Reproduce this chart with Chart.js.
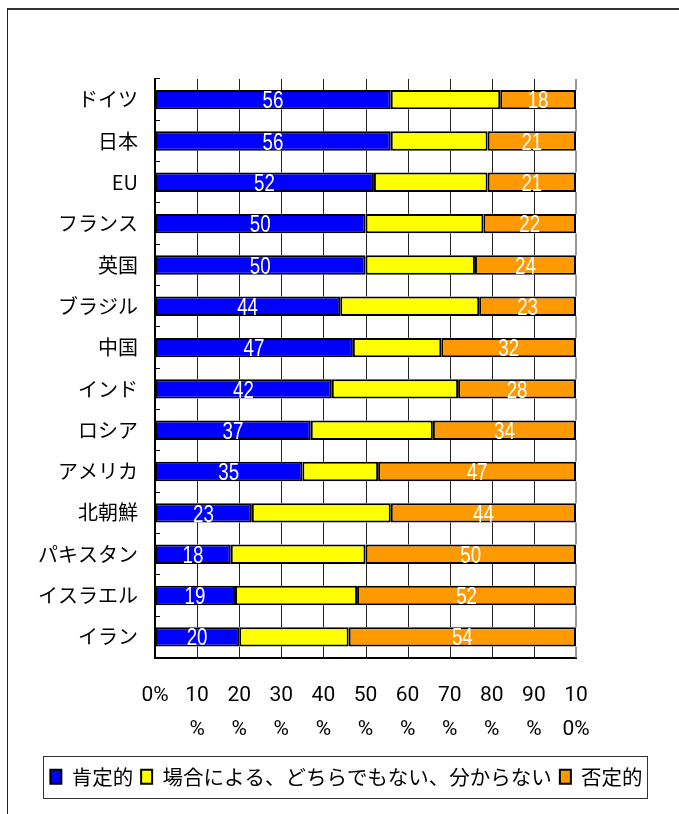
<!DOCTYPE html>
<html>
<head>
<meta charset="utf-8">
<script src="https://cdn.jsdelivr.net/npm/chart.js@4"></script>
<style>
  html, body { margin: 0; padding: 0; background: #fff; }
  #wrap { position: relative; width: 679px; height: 814px; overflow: hidden; }
  #frame { position: absolute; left: 7px; top: 8px; width: 720px; height: 840px;
           border-left: 1px solid #222; border-top: 2px solid #333; }
  canvas { position: absolute; left: 0; top: 0; }
</style>
</head>
<body>
<div id="wrap">
  <div id="frame"></div>
  <canvas id="chart" width="679" height="814"></canvas>
</div>
<script>
const countries = ["ドイツ", "日本", "EU", "フランス", "英国", "ブラジル", "中国", "インド", "ロシア", "アメリカ", "北朝鮮", "パキスタン", "イスラエル", "イラン"];
const positive = [56, 56, 52, 50, 50, 44, 47, 42, 37, 35, 23, 18, 19, 20];
const neutral = [26, 23, 27, 28, 26, 33, 21, 30, 29, 18, 33, 32, 29, 26];
const negative = [18, 21, 21, 22, 24, 23, 32, 28, 34, 47, 44, 50, 52, 54];
const seriesNames = ["肯定的", "場合による、どちらでもない、分からない", "否定的"];
const xTicks = [0, 10, 20, 30, 40, 50, 60, 70, 80, 90, 100];

const jp = '"Noto Sans CJK JP", sans-serif';

// vertical grid lines at each x tick, in the gaps between the bars
const xGrid = {
  id: "xGrid",
  afterDraw(chart) {
    const s = chart.scales.x;
    const a = chart.chartArea;
    const ctx = chart.ctx;
    const bars = chart.getDatasetMeta(0).data.map((b) => b.getProps(["y", "height"], true));
    const gaps = [];
    let top = a.top;
    bars.forEach((b) => {
      gaps.push([top, b.y - b.height / 2]);
      top = b.y + b.height / 2;
    });
    gaps.push([top, a.bottom]);
    ctx.save();
    ctx.setLineDash([]);
    ctx.globalAlpha = 1;
    xTicks.forEach((v, i) => {
      if (i === 0) return;
      const last = i === xTicks.length - 1;
      const px = Math.round(s.getPixelForValue(v)) + (last ? 0 : 0.5);
      ctx.strokeStyle = last ? "#999" : "#222";
      ctx.lineWidth = last ? 2 : 1;
      gaps.forEach(([y1, y2]) => {
        ctx.beginPath();
        ctx.moveTo(px, y1);
        ctx.lineTo(px, y2);
        ctx.stroke();
      });
    });
    ctx.restore();
  },
};

// white numbers in the blue and orange parts, squeezed like the original font
const valueLabels = {
  id: "valueLabels",
  afterDatasetsDraw(chart) {
    const ctx = chart.ctx;
    [0, 2].forEach((di) => {
      const meta = chart.getDatasetMeta(di);
      meta.data.forEach((bar, i) => {
        const p = bar.getProps(["x", "y", "base"], true);
        const cx = (p.x + p.base) / 2;
        ctx.save();
        ctx.translate(cx, p.y + 2);
        ctx.scale(0.78, 1);
        ctx.fillStyle = "#fff";
        ctx.font = '24px "Liberation Sans", sans-serif';
        ctx.textAlign = "center";
        ctx.textBaseline = "middle";
        ctx.fillText(chart.data.datasets[di].data[i], 0, 0);
        ctx.restore();
      });
    });
  },
};

// frame round the legend
const legendFrame = {
  id: "legendFrame",
  afterDraw(chart) {
    const boxes = chart.legend.legendHitBoxes;
    if (!boxes || !boxes.length) return;
    const l = Math.min(...boxes.map((b) => b.left)) - 7;
    const r = Math.max(...boxes.map((b) => b.left + b.width)) + 5;
    const t = Math.min(...boxes.map((b) => b.top)) - 11;
    const btm = Math.max(...boxes.map((b) => b.top + b.height)) + 10;
    const ctx = chart.ctx;
    ctx.save();
    ctx.strokeStyle = "#333";
    ctx.lineWidth = 1;
    ctx.strokeRect(Math.round(l) + 0.5, Math.round(t) + 0.5, Math.round(r - l), Math.round(btm - t));
    ctx.restore();
  },
};

const ctx = document.getElementById("chart").getContext("2d");
const chart = new Chart(ctx, {
  type: "bar",
  data: {
    labels: countries,
    datasets: [
      { label: seriesNames[0], data: positive, backgroundColor: "#0000ff" },
      { label: seriesNames[1], data: neutral, backgroundColor: "#ffff00" },
      { label: seriesNames[2], data: negative, backgroundColor: "#ff9900" },
    ].map((d) => Object.assign(d, {
      borderColor: "#000",
      borderWidth: 2,
      borderSkipped: false,
      categoryPercentage: 1,
      barPercentage: 0.47,
    })),
  },
  options: {
    indexAxis: "y",
    responsive: false,
    animation: false,
    layout: { padding: { top: 79, left: 14, right: 0, bottom: 17 } },
    scales: {
      x: {
        stacked: true,
        min: 0,
        max: 100,
        afterBuildTicks: (s) => { s.ticks = xTicks.map((v) => ({ value: v })); },
        afterFit: (s) => { s.height = 101; },
        grid: { display: false },
        border: { color: "#000", width: 2 },
        ticks: {
          autoSkip: false,
          maxRotation: 0,
          padding: 13,
          color: "#000",
          font: { family: "Roboto", size: 21, lineHeight: 1.62 },
          callback: (v) => (v === 0 ? "0%" : v === 100 ? ["10", "0%"] : [String(v), "%"]),
        },
      },
      y: {
        stacked: true,
        afterFit: (s) => { s.width = 141; },
        grid: {
          offset: true,
          drawOnChartArea: false,
          drawTicks: true,
          tickLength: -5,
          color: "#000",
        },
        border: { color: "#000", width: 2 },
        ticks: {
          padding: 22,
          color: "#000",
          font: { family: jp, size: 20 },
        },
      },
      yRight: {
        position: "right",
        axis: "y",
        type: "linear",
        grid: { display: false },
        border: { display: false },
        ticks: { display: false },
        afterFit: (s) => { s.width = 103; },
      },
    },
    plugins: {
      legend: {
        position: "bottom",
        labels: {
          color: "#000",
          font: { family: jp, size: 20.5 },
          boxWidth: 11,
          boxHeight: 14,
          padding: 8,
          useBorderRadius: false,
        },
      },
      tooltip: { enabled: false },
    },
  },
  plugins: [valueLabels, legendFrame, xGrid],
});
</script>
</body>
</html>
